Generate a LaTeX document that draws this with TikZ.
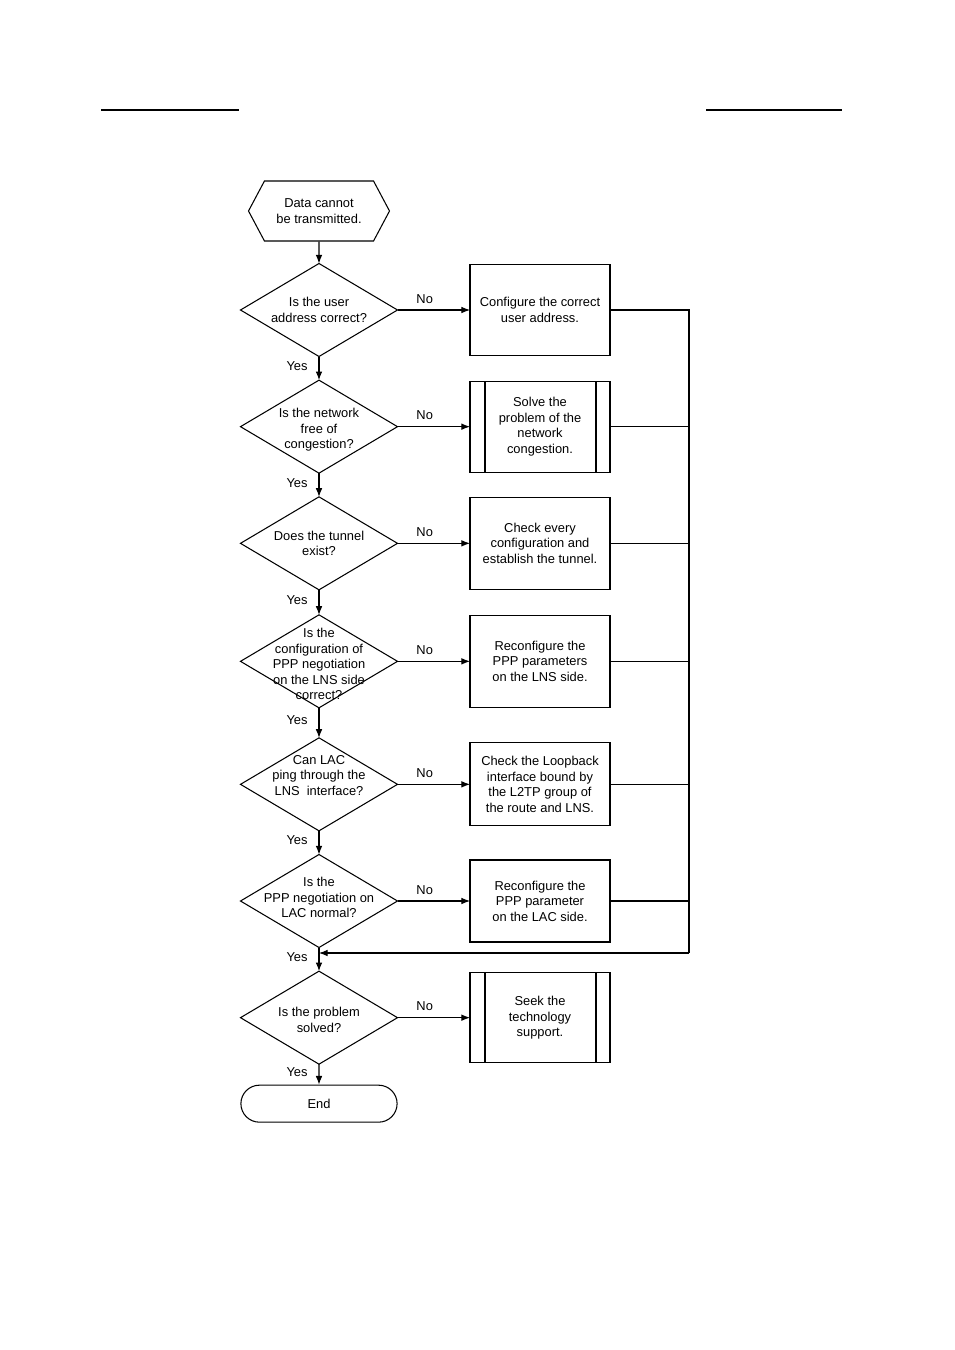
\documentclass[tikz,border=0pt]{standalone}
\usepackage{fontspec}
\setmainfont{Liberation Sans}
\usepackage{tikz}
\usetikzlibrary{shapes.geometric, shapes.misc, shapes.symbols, arrows.meta, positioning}
\newcommand{\flowfont}{\fontsize{11}{13.2}\selectfont}
\tikzstyle{startstop} = [signal, signal to=west and east, signal pointer angle=124, minimum width=4.23cm, minimum height=1.8cm, inner sep=0pt, text centered, align=center, draw=black]
\tikzstyle{endnode} = [rounded rectangle, minimum width=4.92cm, minimum height=1.11cm, draw=black]
\tikzstyle{decision} = [diamond, minimum width=4.71cm, minimum height=2.79cm, inner sep=0pt, outer sep=0pt, draw=black]
\tikzstyle{qtext} = [align=center, inner sep=0pt]
\tikzstyle{process} = [rectangle, minimum width=4.2cm, minimum height=2.73cm, align=center, outer sep=0pt, draw=black]
\tikzstyle{arrow} = [->,>={Latex[length=2.6mm,width=2mm]}]

\begin{document}
\begin{tikzpicture}[node distance=3.5cm, line width=0.9pt, every node/.style={font=\flowfont}]
\useasboundingbox (0,0) rectangle (28.62,-40.5);

% Page header rules
\draw [line width=1.3pt] (3.03,-3.3) -- (7.17,-3.3);
\draw [line width=1.3pt] (21.18,-3.3) -- (25.26,-3.3);

% Start
\node (start) [startstop] at (9.57,-6.33) {Data cannot\\be transmitted.};

% Checks
\node (q1) [decision, below of=start, yshift=0.53cm, label={[qtext]center:Is the user\\address correct?}] {};
\node (q2) [decision, below of=q1, label={[qtext, yshift=-0.1cm]center:Is the network\\free of\\congestion?}] {};
\node (q3) [decision, below of=q2, label={[qtext]center:Does the tunnel\\exist?}] {};
\node (q4) [decision, below of=q3, yshift=-0.04cm, label={[qtext, yshift=-0.08cm]center:Is the\\configuration of\\PPP negotiation\\on the LNS side\\correct?}] {};
\node (q5) [decision, below of=q4, yshift=-0.19cm, label={[qtext, yshift=0.27cm]center:Can LAC\\ping through the\\LNS~~interface?}] {};
\node (q6) [decision, below of=q5, label={[qtext, yshift=0.1cm]center:Is the\\PPP negotiation on\\LAC normal?}] {};
\node (q7) [decision, below of=q6, label={[qtext, yshift=-0.06cm]center:Is the problem\\solved?}] {};
\node (stop) [endnode, below of=q7, yshift=0.92cm] {End};

% Fixes
\node (fix1) [process, right of=q1, xshift=3.13cm] {Configure the correct\\user address.};
\node (fix2) [process, right of=q2, xshift=3.13cm] {Solve the\\problem of the\\network\\congestion.};
\node (fix3) [process, right of=q3, xshift=3.13cm, minimum height=2.76cm] {Check every\\configuration and\\establish the tunnel.};
\node (fix4) [process, right of=q4, xshift=3.13cm, minimum height=2.76cm] {Reconfigure the\\PPP parameters\\on the LNS side.};
\node (fix5) [process, right of=q5, xshift=3.13cm, minimum height=2.49cm] {Check the Loopback\\interface bound by\\the L2TP group of\\the route and LNS.};
\node (fix6) [process, right of=q6, xshift=3.13cm, minimum height=2.46cm] {Reconfigure the\\PPP parameter\\on the LAC side.};
\node (support) [process, right of=q7, xshift=3.13cm, minimum height=2.7cm] {Seek the\\technology\\support.};

% Predefined process bars
\draw ([xshift=0.45cm]fix2.north west) -- ([xshift=0.45cm]fix2.south west);
\draw ([xshift=-0.42cm]fix2.north east) -- ([xshift=-0.42cm]fix2.south east);
\draw ([xshift=0.45cm]support.north west) -- ([xshift=0.45cm]support.south west);
\draw ([xshift=-0.42cm]support.north east) -- ([xshift=-0.42cm]support.south east);

% Yes path
\draw [arrow] (start) -- (q1);
\draw [arrow] (q1) -- node[left=6pt, pos=0.4] {Yes} (q2);
\draw [arrow] (q2) -- node[left=6pt, pos=0.4] {Yes} (q3);
\draw [arrow] (q3) -- node[left=6pt, pos=0.4] {Yes} (q4);
\draw [arrow] (q4) -- node[left=6pt, pos=0.4] {Yes} (q5);
\draw [arrow] (q5) -- node[left=6pt, pos=0.4] {Yes} (q6);
\draw [arrow] (q6) -- node[left=6pt, pos=0.4] {Yes} (q7);
\draw [arrow] (q7) -- node[left=6pt, pos=0.4] {Yes} (stop);

% No path
\draw [arrow] (q1) -- node[above=2pt, pos=0.375] {No} (fix1);
\draw [arrow] (q2) -- node[above=2pt, pos=0.375] {No} (fix2);
\draw [arrow] (q3) -- node[above=2pt, pos=0.375] {No} (fix3);
\draw [arrow] (q4) -- node[above=2pt, pos=0.375] {No} (fix4);
\draw [arrow] (q5) -- node[above=2pt, pos=0.375] {No} (fix5);
\draw [arrow] (q6) -- node[above=2pt, pos=0.375] {No} (fix6);
\draw [arrow] (q7) -- node[above=2pt, pos=0.375] {No} (support);

% Back to the final check
\coordinate (rail) at (20.67,-28.59);
\draw (fix1.east) -| (rail);
\draw (fix2.east) -| (rail);
\draw (fix3.east) -| (rail);
\draw (fix4.east) -| (rail);
\draw (fix5.east) -| (rail);
\draw (fix6.east) -| (rail);
\draw [arrow] (rail) -- (rail -| q7.north);

\end{tikzpicture}
\end{document}
